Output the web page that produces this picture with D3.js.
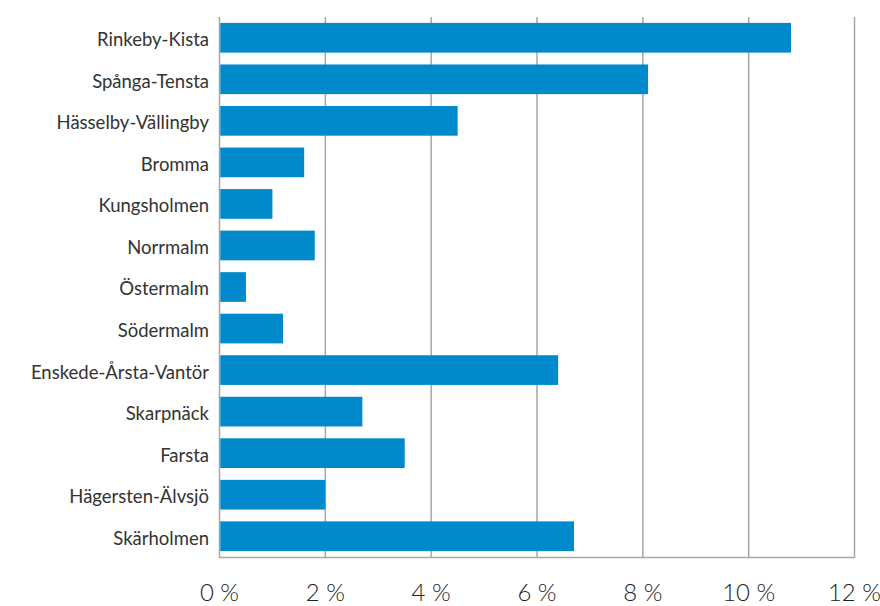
<!DOCTYPE html>
<html><head><meta charset="utf-8">
<script src="https://cdn.jsdelivr.net/npm/d3@7"></script>
<style>body{margin:0;background:#fff;}svg{display:block;}</style>
</head><body>
<script>
const categories = ["Rinkeby-Kista","Spånga-Tensta","Hässelby-Vällingby","Bromma","Kungsholmen","Norrmalm","Östermalm","Södermalm","Enskede-Årsta-Vantör","Skarpnäck","Farsta","Hägersten-Älvsjö","Skärholmen"];
const values = [10.8, 8.1, 4.5, 1.6, 1.0, 1.8, 0.5, 1.2, 6.4, 2.7, 3.5, 2.0, 6.7];
const tickValues = [0, 2, 4, 6, 8, 10, 12];
const tickLabels = ["0 %", "2 %", "4 %", "6 %", "8 %", "10 %", "12 %"];

const W = 880, H = 606;
const svg = d3.select("body").append("svg").attr("width", W).attr("height", H);
const x = d3.scaleLinear().domain([0, 12]).range([219.5, 854.5]);
const y = d3.scaleBand().domain(categories).range([17, 557]).paddingInner(0.285).paddingOuter(0.1425);

const g = svg.append("g");
// gridlines
g.selectAll("line.grid").data(tickValues).join("line")
  .attr("x1", d => x(d)).attr("x2", d => x(d))
  .attr("y1", 17).attr("y2", 558)
  .attr("stroke", "#a6a6a6").attr("stroke-width", 1.5);
// bottom axis line
g.append("line").attr("x1", x(0)).attr("x2", x(12)).attr("y1", 557.5).attr("y2", 557.5)
  .attr("stroke", "#a6a6a6").attr("stroke-width", 1.5);
// bars
g.selectAll("rect.bar").data(values).join("rect")
  .attr("x", x(0) + 0.75)
  .attr("y", (d, i) => y(categories[i]))
  .attr("width", d => x(d) - x(0) - 0.75)
  .attr("height", y.bandwidth())
  .attr("fill", "#008acb");
// category labels
g.selectAll("text.cat").data(categories).join("text")
  .attr("x", 209).attr("y", d => y(d) + y.bandwidth() / 2 + 2)
  .attr("dy", "0.35em").attr("text-anchor", "end")
  .attr("font-family", "Lato, sans-serif").attr("font-size", 18.5)
  .attr("fill", "#333").text(d => d);
// tick labels
g.selectAll("text.tick").data(tickValues).join("text")
  .attr("x", d => x(d)).attr("y", 593)
  .attr("dy", "0.35em").attr("text-anchor", "middle")
  .attr("font-family", "Lato, sans-serif").attr("font-weight", 300).attr("font-size", 24)
  .attr("fill", "#222").text((d, i) => tickLabels[i]);
</script>
</body></html>
